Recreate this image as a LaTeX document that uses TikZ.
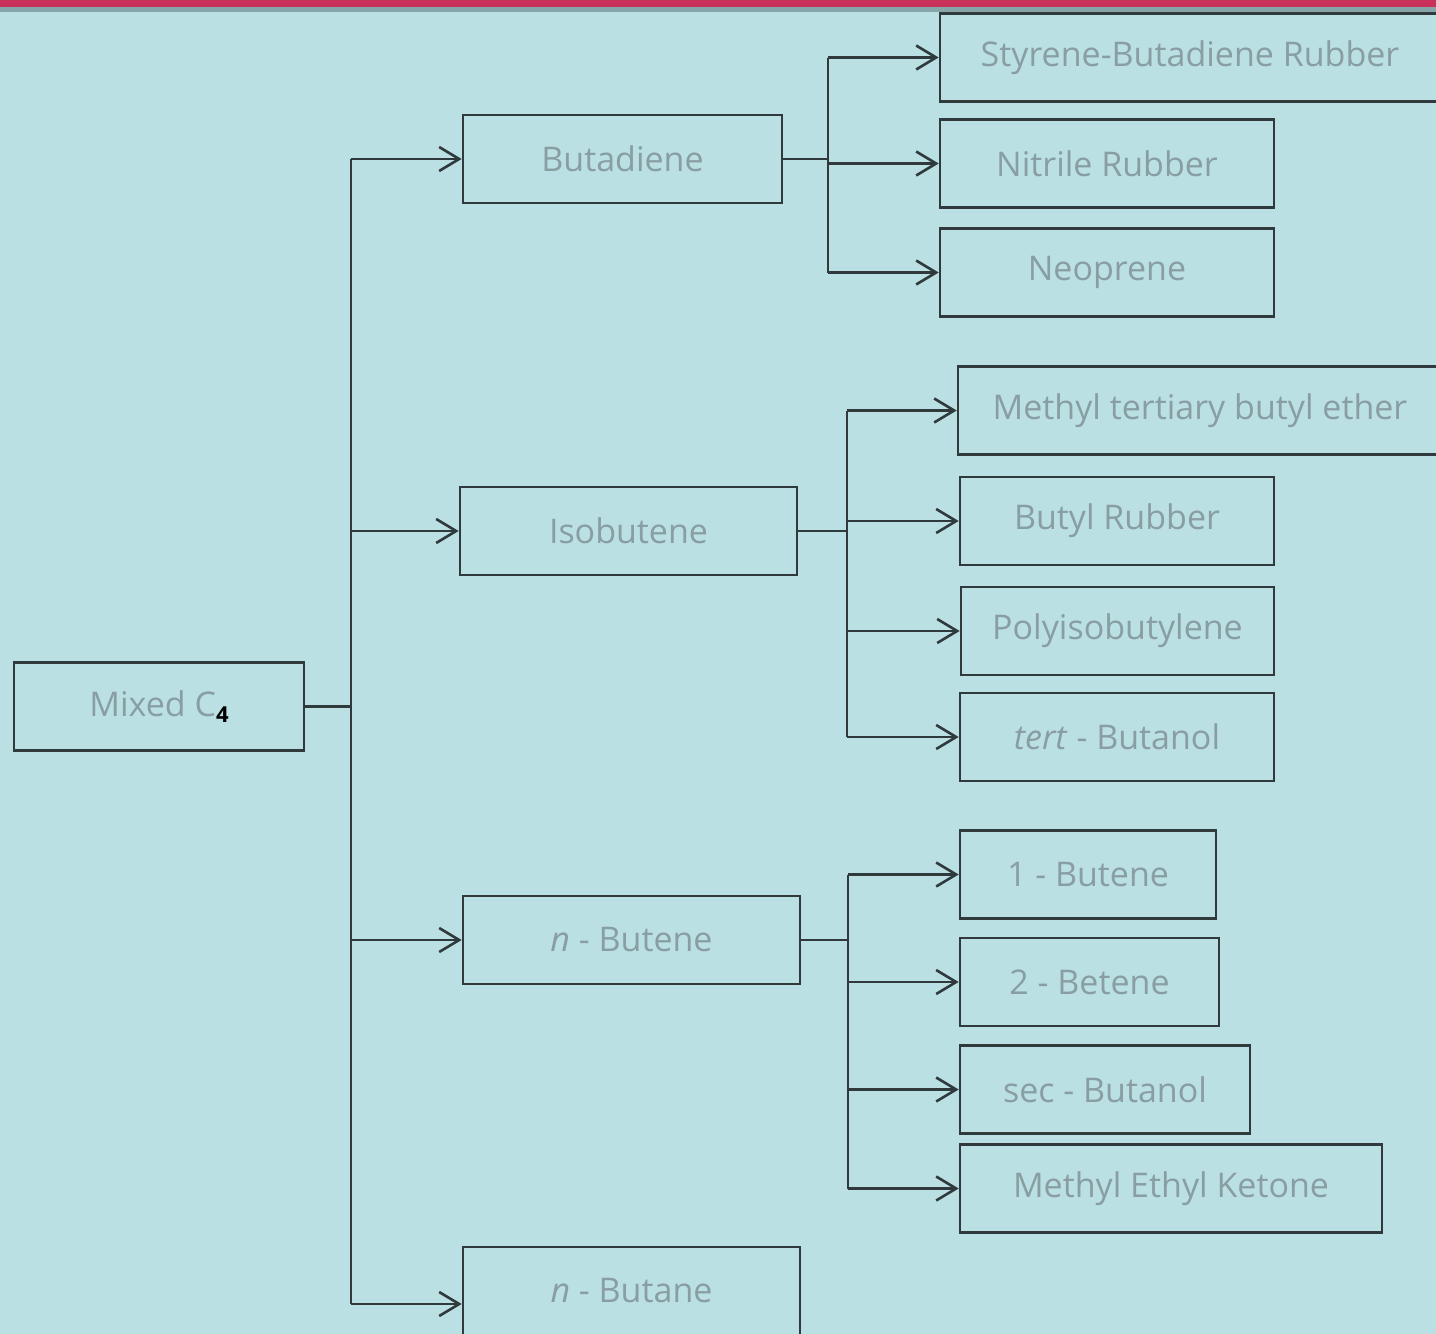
\documentclass[tikz,border=0pt]{standalone}
\usepackage{fontspec}
\setmainfont{Open Sans}
\usetikzlibrary{arrows.meta}
\definecolor{bgblue}{RGB}{186,224,228}
\definecolor{topred}{RGB}{200,50,90}
\definecolor{topgray}{RGB}{134,165,168}
\definecolor{linegray}{RGB}{48,58,60}
\definecolor{textgray}{RGB}{136,158,162}
\tikzset{
  box/.style={draw=linegray, line width=1.3pt, text=textgray, font=\fontsize{17}{20}\selectfont, minimum height=44pt, inner sep=0pt},
  feed/.style={draw=linegray, line width=1.3pt},
  arr/.style={feed, -{Straight Barb[length=10pt,width=12pt,line width=1.3pt]}},
}
\begin{document}
\begin{tikzpicture}[x=0.5pt,y=-0.5pt]
        \useasboundingbox (0,0) rectangle (1436,1334);
        \clip (0,0) rectangle (1436,1334);
        \fill[bgblue] (0,0) rectangle (1436,1334);
        \fill[topgray] (0,7) rectangle (1436,12);
        \fill[topred] (0,0) rectangle (1436,7);

        \node[box, minimum width=145pt] (mixed) at (159,706.5) {Mixed C\raisebox{-0.35ex}{\fontsize{11}{12}\selectfont\textcolor{black}{\textbf{4}}}};
        \node[box, minimum width=159.5pt] (butadiene) at (622.5,159) {Butadiene};
        \node[box, minimum width=168.5pt] (isobutene) at (628.5,531) {Isobutene};
        \node[box, minimum width=168.5pt] (nbutene) at (631.5,940) {\textit{n} - Butene};
        \node[box, minimum width=168.5pt] (nbutane) at (631.5,1291) {\textit{n} - Butane};

        \node[box, minimum width=250pt] (sbr) at (1190,57.5) {Styrene-Butadiene Rubber};
        \node[box, minimum width=167pt] (nitrile) at (1107,163.5) {Nitrile Rubber};
        \node[box, minimum width=167pt] (neoprene) at (1107,272.5) {Neoprene};

        \node[box, minimum width=242pt] (mtbe) at (1200,410.5) {Methyl tertiary butyl ether};
        \node[box, minimum width=157pt] (butyl) at (1117,521) {Butyl Rubber};
        \node[box, minimum width=156.5pt] (pib) at (1117.5,631) {Polyisobutylene};
        \node[box, minimum width=157pt] (tba) at (1117,737) {\textit{tert} - Butanol};

        \node[box, minimum width=128pt] (onebutene) at (1088,874.5) {1 - Butene};
        \node[box, minimum width=129.5pt] (twobutene) at (1089.5,982) {2 - Betene};
        \node[box, minimum width=145pt] (sba) at (1105,1089.5) {sec - Butanol};
        \node[box, minimum width=211pt] (mek) at (1171,1188.5) {Methyl Ethyl Ketone};

        \coordinate (trunk) at (351,712);
        \coordinate (bdbus) at (828,161);
        \coordinate (ibbus) at (847,537);
        \coordinate (nbbus) at (848,961);

        \draw[feed] (mixed.east) -- (trunk |- mixed.east);
        \draw[feed] (trunk |- butadiene.west) -- (trunk |- nbutane.west) -- ++(0,13);
        \draw[arr] (trunk |- butadiene.west) -- (butadiene.west);
        \draw[arr] (trunk |- isobutene.west) -- (isobutene.west);
        \draw[arr] (trunk |- nbutene.west) -- (nbutene.west);
        \draw[arr] ([yshift=-6.5pt]trunk |- nbutane.west) -- ([yshift=-6.5pt]nbutane.west);

        \draw[feed] (butadiene.east) -- (bdbus |- butadiene.east);
        \draw[feed] (bdbus |- sbr.west) -- (bdbus |- neoprene.west);
        \draw[arr] (bdbus |- sbr.west) -- (sbr.west);
        \draw[arr] (bdbus |- nitrile.west) -- (nitrile.west);
        \draw[arr] (bdbus |- neoprene.west) -- (neoprene.west);

        \draw[feed] (isobutene.east) -- (ibbus |- isobutene.east);
        \draw[feed] (ibbus |- mtbe.west) -- (ibbus |- tba.west);
        \draw[arr] (ibbus |- mtbe.west) -- (mtbe.west);
        \draw[arr] (ibbus |- butyl.west) -- (butyl.west);
        \draw[arr] (ibbus |- pib.west) -- (pib.west);
        \draw[arr] (ibbus |- tba.west) -- (tba.west);

        \draw[feed] (nbutene.east) -- (nbbus |- nbutene.east);
        \draw[feed] (nbbus |- onebutene.west) -- (nbbus |- mek.west);
        \draw[arr] (nbbus |- onebutene.west) -- (onebutene.west);
        \draw[arr] (nbbus |- twobutene.west) -- (twobutene.west);
        \draw[arr] (nbbus |- sba.west) -- (sba.west);
        \draw[arr] (nbbus |- mek.west) -- (mek.west);
    \end{tikzpicture}
\end{document}
